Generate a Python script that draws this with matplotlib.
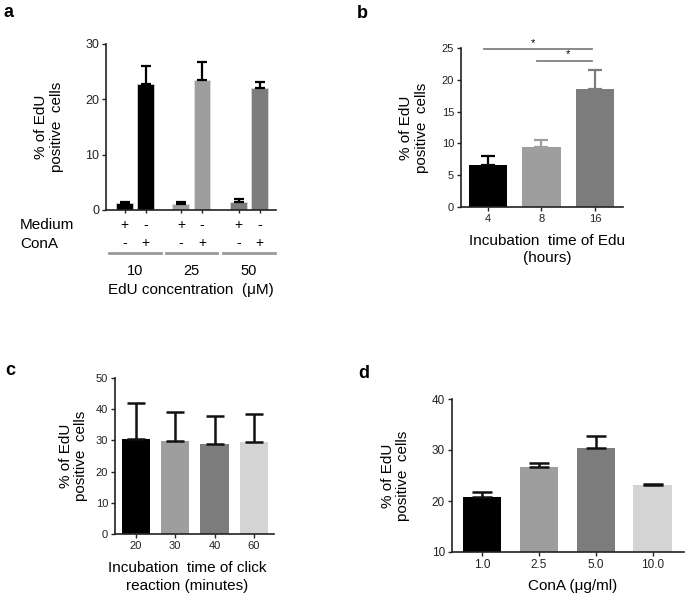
import matplotlib
matplotlib.use("Agg")
import matplotlib.pyplot as plt
import numpy as np

plt.rcParams['font.family'] = ['Liberation Sans', 'DejaVu Sans']

# ---- data ----
# panel a
conc_labels = ['10', '25', '50']
medium_mean = [1.3, 1.1, 1.4]
medium_err = [0.2, 0.3, 0.5]
cona_mean = [22.7, 23.5, 22.0]
cona_err = [3.4, 3.3, 1.2]
medium_signs = ['+', '-', '+', '-', '+', '-']
cona_signs = ['-', '+', '-', '+', '-', '+']

# panel b
edu_hours = ['4', '8', '16']
edu_mean = [6.55, 9.5, 18.5]
edu_err = [1.4, 1.0, 3.1]
sig_pairs = [(0, 2, 24.8), (1, 2, 23.0)]

# panel c
click_min = ['20', '30', '40', '60']
click_mean = [30.6, 29.9, 28.9, 29.6]
click_err = [11.4, 9.1, 8.8, 8.9]

# panel d
cona_dose = ['1.0', '2.5', '5.0', '10.0']
dose_mean = [20.7, 26.6, 30.3, 23.1]
dose_err = [1.1, 0.85, 2.4, 0.2]

BLACK = '#000000'
LGRAY = '#9e9e9e'
MGRAY = '#7c7c7c'
PGRAY = '#d4d4d4'

W, H = 685, 599
fig = plt.figure(figsize=(W / 100, H / 100), dpi=100)


def px_axes(l, t, r, b):
    return fig.add_axes([l / W, 1 - b / H, (r - l) / W, (b - t) / H])


def style(ax, ts=8):
    for s in ['top', 'right']:
        ax.spines[s].set_visible(False)
    for s in ['left', 'bottom']:
        ax.spines[s].set_linewidth(1.2)
        ax.spines[s].set_color('#222222')
    ax.tick_params(length=3, width=1, labelsize=ts, colors='#222222', pad=2)


ylab = '% of EdU\npositive  cells'
FS = 11

# ---------- a ----------
ax = px_axes(106, 44, 276, 210)
style(ax, 9)
offs = [0, 2.68, 5.42]
cols_a = [BLACK, LGRAY, MGRAY]
xpos = []
for i in range(3):
    x0 = offs[i]
    ax.bar(x0, medium_mean[i], width=0.8, color=cols_a[i], edgecolor='#e0e0e0', linewidth=0.5)
    ax.bar(x0 + 1, cona_mean[i], width=0.8, color=cols_a[i], edgecolor='#e0e0e0', linewidth=0.5)
    ax.errorbar([x0, x0 + 1], [medium_mean[i], cona_mean[i]],
                yerr=[[0, 0], [medium_err[i], cona_err[i]]], fmt='none',
                ecolor='black', elinewidth=1.6, capsize=3.5, capthick=1.6)
    xpos += [x0, x0 + 1]
ax.set_xlim(-0.88, 7.2)
ax.set_ylim(0, 30)
ax.set_yticks([0, 10, 20, 30])
ax.set_xticks(xpos)
ax.set_xticklabels([''] * 6)
ax.tick_params(axis='x', length=2)
ax.set_ylabel(ylab, fontsize=FS, linespacing=1.1)
ax.yaxis.set_label_coords(-0.25, 0.5)
tr = ax.get_xaxis_transform()
for x, s1, s2 in zip(xpos, medium_signs, cona_signs):
    ax.text(x, -0.09, s1, transform=tr, ha='center', va='center', fontsize=10)
    ax.text(x, -0.2, s2, transform=tr, ha='center', va='center', fontsize=10)
for i in range(3):
    c = offs[i] + 0.5
    ax.plot([c - 1.22, c + 1.22], [-0.26, -0.26], transform=tr, color='#999999',
            lw=2, clip_on=False)
    ax.text(c, -0.37, conc_labels[i], transform=tr, ha='center', va='center', fontsize=10.5)
ax.text(0.5, -0.48, 'EdU concentration  (μM)', transform=ax.transAxes,
        ha='center', va='center', fontsize=FS)
fig.text(20 / W, 1 - 225 / H, 'Medium', ha='left', va='center', fontsize=FS)
fig.text(20 / W, 1 - 244 / H, 'ConA', ha='left', va='center', fontsize=FS)

# ---------- b ----------
ax = px_axes(461, 48, 623, 207)
style(ax, 8)
cols_b = [BLACK, LGRAY, MGRAY]
xb = np.arange(len(edu_hours))
ax.bar(xb, edu_mean, width=0.71, color=cols_b)
for i in range(len(xb)):
    ax.errorbar(xb[i], edu_mean[i], yerr=[[0], [edu_err[i]]], fmt='none',
                ecolor=cols_b[i], elinewidth=1.6, capsize=5, capthick=1.6)
for a_, b_, y in sig_pairs:
    ax.plot([xb[a_] - 0.08, xb[b_] - 0.05], [y, y], color='#808080', lw=1.3, clip_on=False)
    ax.text((xb[a_] + xb[b_]) / 2 - 0.15 * (b_ - a_ == 2), y + 1.0, '*',
            ha='center', va='center', fontsize=8)
ax.set_xlim(-0.5, 2.52)
ax.set_ylim(0, 25)
ax.set_yticks([0, 5, 10, 15, 20, 25])
ax.set_xticks(xb)
ax.set_xticklabels(edu_hours)
ax.set_ylabel(ylab, fontsize=FS, linespacing=1.1)
ax.yaxis.set_label_coords(-0.20, 0.5)
ax.text(0.53, -0.17, 'Incubation  time of Edu\n(hours)', transform=ax.transAxes,
        ha='center', va='top', fontsize=FS, linespacing=1.3)

# ---------- c ----------
ax = px_axes(115, 378, 274, 534)
style(ax, 8)
cols_c = [BLACK, LGRAY, MGRAY, PGRAY]
xc = np.arange(len(click_min))
ax.bar(xc, click_mean, width=0.72, color=cols_c)
ax.errorbar(xc, click_mean, yerr=[np.zeros(len(xc)), click_err], fmt='none',
            ecolor='#111111', elinewidth=1.8, capsize=6.5, capthick=1.8)
ax.set_xlim(-0.53, 3.51)
ax.set_ylim(0, 50)
ax.set_yticks([0, 10, 20, 30, 40, 50])
ax.set_xticks(xc)
ax.set_xticklabels(click_min)
ax.set_ylabel(ylab, fontsize=FS, linespacing=1.1)
ax.yaxis.set_label_coords(-0.17, 0.5)
ax.text(0.456, -0.175, 'Incubation  time of click\nreaction (minutes)',
        transform=ax.transAxes, ha='center', va='top', fontsize=FS, linespacing=1.3)

# ---------- d ----------
ax = px_axes(452, 399, 684, 552)
style(ax, 8.5)
xd = np.arange(len(cona_dose))
ax.bar(xd, np.array(dose_mean) - 10, bottom=10, width=0.68, color=cols_c)
ax.errorbar(xd, dose_mean, yerr=[np.zeros(len(xd)), dose_err], fmt='none',
            ecolor='#111111', elinewidth=1.8, capsize=7, capthick=1.8)
ax.set_xlim(-0.53, 3.55)
ax.set_ylim(10, 40)
ax.set_yticks([10, 20, 30, 40])
ax.set_xticks(xd)
ax.set_xticklabels(cona_dose)
ax.set_ylabel(ylab, fontsize=FS, linespacing=1.1)
ax.yaxis.set_label_coords(-0.18, 0.5)
ax.text(0.52, -0.175, 'ConA (μg/ml)', transform=ax.transAxes,
        ha='center', va='top', fontsize=FS)

# panel letters
for lx, ly, s in [(3, 4, 'a'), (357, 5, 'b'), (5, 362, 'c'), (358, 365, 'd')]:
    fig.text(lx / W, 1 - ly / H, s, ha='left', va='top', fontsize=13, fontweight='bold')

fig.savefig('out.png', dpi=100)
